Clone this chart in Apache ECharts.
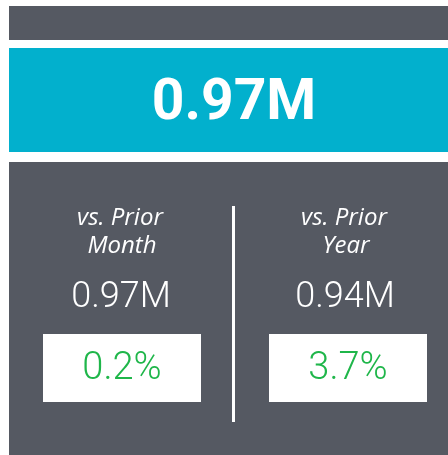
<!DOCTYPE html>
<html>
<head>
<meta charset="utf-8">
<script src="https://cdn.jsdelivr.net/npm/echarts@6/dist/echarts.min.js"></script>
<style>
  html, body { margin: 0; padding: 0; background: #fff; }
  #chart { width: 448px; height: 455px; }
</style>
</head>
<body>
<div id="chart"></div>
<script>
// KPI 数据
const headline = ['0.97M']
const compareLabels = [['vs. Prior', 'Month'], ['vs. Prior', 'Year']]
const compareValues = ['0.97M', '0.94M']
const changePct = [0.2, 3.7]

const GRAY = '#555962'
const CYAN = '#02b0cd'
const GREEN = '#1fb64a'
const FONT = 'Roboto, "Noto Sans", sans-serif'

// 两列的中心位置
const colX = [120, 344]

const elements = [
  { type: 'rect', shape: { x: 9, y: 6, width: 439, height: 34 }, style: { fill: GRAY } },
  { type: 'rect', shape: { x: 9, y: 48, width: 439, height: 104 }, style: { fill: CYAN } },
  { type: 'rect', shape: { x: 9, y: 162, width: 439, height: 293 }, style: { fill: GRAY } },
  { type: 'rect', shape: { x: 232, y: 206, width: 3, height: 216 }, style: { fill: '#fff' } },
  {
    type: 'text',
    style: {
      x: 234, y: 105, text: headline[0], fill: '#fff',
      font: 'bold 57px ' + FONT, align: 'center', verticalAlign: 'middle'
    }
  }
]

compareLabels.forEach((lines, i) => {
  const cx = colX[i]
  lines.forEach((line, j) => {
    elements.push({
      type: 'text',
      style: {
        x: cx + (j === 1 ? 2 : 0), y: 218 + j * 28, text: line, fill: '#fff',
        font: 'italic 24px "Open Sans", sans-serif', align: 'center', verticalAlign: 'middle'
      }
    })
  })
  elements.push({
    type: 'text',
    style: {
      x: cx + 1, y: 298, text: compareValues[i], fill: '#fff',
      font: '300 36px ' + FONT, align: 'center', verticalAlign: 'middle'
    }
  })
  elements.push({
    type: 'rect',
    shape: { x: i === 0 ? 43 : 269, y: 334, width: 158, height: 68 },
    style: { fill: '#fff' }
  })
  elements.push({
    type: 'text',
    style: {
      x: i === 0 ? 122 : 348, y: 369, text: changePct[i].toFixed(1) + '%', fill: GREEN,
      font: '300 38px ' + FONT, align: 'center', verticalAlign: 'middle'
    }
  })
})

const myChart = echarts.init(document.getElementById('chart'), null, { renderer: 'canvas' })
myChart.setOption({
  backgroundColor: '#fff',
  animation: false,
  graphic: { elements }
})
</script>
</body>
</html>
